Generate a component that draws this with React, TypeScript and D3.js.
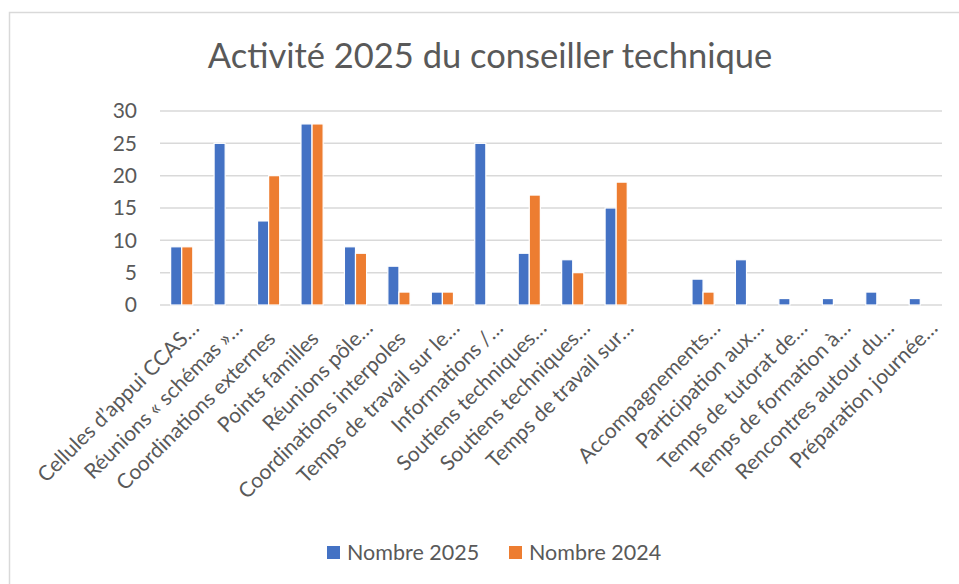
import React from 'react';
import * as d3 from 'd3';

const categories: string[] = [
  'Cellules d’appui CCAS…',
  'Réunions « schémas »…',
  'Coordinations externes',
  'Points familles',
  'Réunions pôle…',
  'Coordinations interpoles',
  'Temps de travail sur le…',
  'Informations /…',
  'Soutiens techniques…',
  'Soutiens techniques…',
  'Temps de travail sur…',
  '',
  'Accompagnements…',
  'Participation aux…',
  'Temps de tutorat de…',
  'Temps de formation à…',
  'Rencontres autour du…',
  'Préparation journée…',
];

const values2025: (number | null)[] = [9, 25, 13, 28, 9, 6, 2, 25, 8, 7, 15, null, 4, 7, 1, 1, 2, 1];
const values2024: (number | null)[] = [9, null, 20, 28, 8, 2, 2, null, 17, 5, 19, null, 2, null, null, null, null, null];

const seriesNames = ['Nombre 2025', 'Nombre 2024'];
const seriesColors = ['#4472C4', '#ED7D31'];
const yTicks = [0, 5, 10, 15, 20, 25, 30];
const title = 'Activité 2025 du conseiller technique';

const W = 959;
const H = 584;
const FONT = 'Lato, "Open Sans", sans-serif';
const TEXT = '#595959';

export default function App() {
  const plotLeft = 160;
  const plotRight = 942;
  const y0 = 305;
  const yTop = 111;

  const idx = categories.map((_, i) => String(i));
  const x0 = d3.scaleBand<string>().domain(idx).range([plotLeft, plotRight]).paddingInner(0.49).paddingOuter(0.245);
  const x1 = d3.scaleBand<string>().domain(['0', '1']).range([0, x0.bandwidth()]);
  const y = d3.scaleLinear().domain([0, 30]).range([y0, yTop]);

  const series = [values2025, values2024];

  return (
    <div style={{ position: 'absolute', left: 0, top: 0 }}>
      <svg width={W} height={H} style={{ display: 'block' }}>
        <rect x={0} y={0} width={W} height={H} fill="#ffffff" />
        <rect x={9.5} y={12.5} width={990} height={620} fill="#ffffff" stroke="#d9d9d9" strokeWidth={1.5} />
        <text x={490} y={68} textAnchor="middle" fontFamily={FONT} fontSize={34.5} fill={TEXT}>{title}</text>

        {yTicks.map((t) => (
          <g key={t}>
            <line x1={plotLeft} x2={plotRight} y1={y(t)} y2={y(t)} stroke="#d9d9d9" strokeWidth={1.5} />
            <text x={137} y={y(t)} dy="0.35em" textAnchor="end" fontFamily={FONT} fontSize={21} fill={TEXT}>{t}</text>
          </g>
        ))}

        {series.map((vals, s) => (
          <g key={s}>
            {vals.map((v, i) =>
              v == null ? null : (
                <rect
                  key={i}
                  x={(x0(String(i)) as number) + (x1(String(s)) as number)}
                  y={y(v)}
                  width={x1.bandwidth()}
                  height={y0 - y(v)}
                  fill={seriesColors[s]}
                  stroke="#ffffff"
                  strokeWidth={1.2}
                />
              )
            )}
          </g>
        ))}

        {categories.map((c, i) => {
          const cx = (x0(String(i)) as number) + x0.bandwidth() / 2;
          const ell = c.endsWith('…');
          return (
            <text
              key={i}
              transform={`translate(${cx + 8},${340}) rotate(-45)`}
              x={ell ? 15 : 0}
              textAnchor="end"
              fontFamily={FONT}
              fontSize={21}
              fill={TEXT}
            >
              {c}
            </text>
          );
        })}

        {seriesNames.map((n, s) => {
          const lx = s === 0 ? 327 : 509;
          return (
            <g key={n}>
              <rect x={lx} y={546} width={13} height={13} fill={seriesColors[s]} />
              <text x={lx + 20} y={560} fontFamily={FONT} fontSize={21.5} fill={TEXT}>{n}</text>
            </g>
          );
        })}
      </svg>
    </div>
  );
}
